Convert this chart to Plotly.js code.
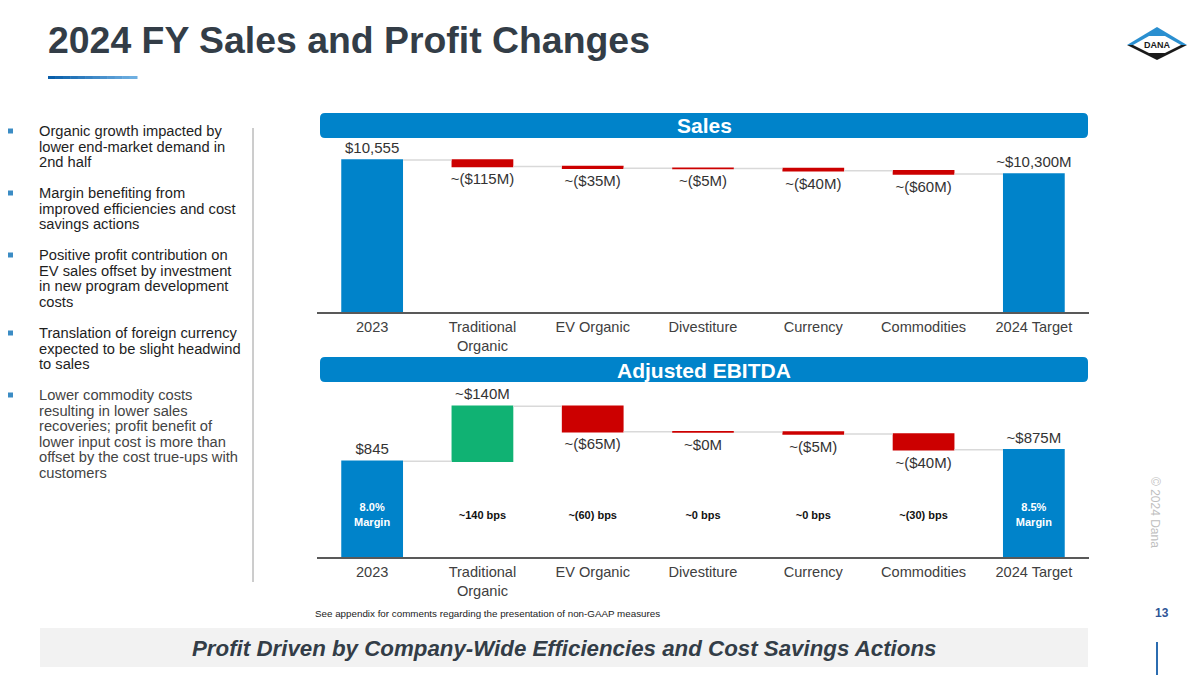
<!DOCTYPE html>
<html><head><meta charset="utf-8">
<script src="https://cdn.plot.ly/plotly-3.0.1.min.js"></script>
<style>html,body{margin:0;padding:0;background:#fff}#chart{width:1200px;height:675px}</style>
</head><body><div id="chart"></div>
<script>
// ---------- DATA ----------
const categories = ["2023","Traditional<br>Organic","EV Organic","Divestiture","Currency","Commodities","2024 Target"];
const measures = ["absolute","relative","relative","relative","relative","relative","total"];
const salesValues = [10555,-115,-35,-5,-40,-60,10300];
const salesLabels = ["$10,555","~($115M)","~($35M)","~($5M)","~($40M)","~($60M)","~$10,300M"];
const ebitdaValues = [845,140,-65,-1,-5,-40,875];
const ebitdaLabels = ["$845","~$140M","~($65M)","~$0M","~($5M)","~($40M)","~$875M"];
const marginLabels = ["8.0%<br>Margin","~140 bps","~(60) bps","~0 bps","~0 bps","~(30) bps","8.5%<br>Margin"];
const bullets = [
  ["Organic growth impacted by","lower end-market demand in","2nd half"],
  ["Margin benefiting from","improved efficiencies and cost","savings actions"],
  ["Positive profit contribution on","EV sales offset by investment","in new program development","costs"],
  ["Translation of foreign currency","expected to be slight headwind","to sales"],
  ["Lower commodity costs","resulting in lower sales","recoveries; profit benefit of","lower input cost is more than","offset by the cost true-ups with","customers"]
];
const titleText = "2024 FY Sales and Profit Changes";
const footText = "Profit Driven by Company-Wide Efficiencies and Cost Savings Actions";
const noteText = "See appendix for comments regarding the presentation of non-GAAP measures";

// ---------- STYLE ----------
const BLUE = "#0083CA", GREEN = "#10B273", RED = "#CC0000", DARK = "#333D47";
const FONT = "Liberation Sans, Arial, sans-serif";
const W = 1200, H = 675;
const px = x => x / W, py = y => 1 - y / H;
const pathOf = pts => "M " + pts.map(p => px(p[0]) + "," + py(p[1])).join(" L ") + " Z";
function rounded(x0, y0, x1, y1, r) {
  const X = v => px(v), Y = v => py(v);
  return `M ${X(x0+r)},${Y(y0)} L ${X(x1-r)},${Y(y0)} Q ${X(x1)},${Y(y0)} ${X(x1)},${Y(y0+r)} L ${X(x1)},${Y(y1-r)} Q ${X(x1)},${Y(y1)} ${X(x1-r)},${Y(y1)} L ${X(x0+r)},${Y(y1)} Q ${X(x0)},${Y(y1)} ${X(x0)},${Y(y1-r)} L ${X(x0)},${Y(y0+r)} Q ${X(x0)},${Y(y0)} ${X(x0+r)},${Y(y0)} Z`;
}

function wf(values, labels, xa, ya) {
  return {
    type: "waterfall", x: categories, y: values, measure: measures,
    text: labels, textinfo: "text", textposition: "outside",
    constraintext: "none",
    outsidetextfont: {family: FONT, size: 15, color: "#333333"},
    increasing: {marker: {color: GREEN}},
    decreasing: {marker: {color: RED}},
    totals: {marker: {color: BLUE}},
    connector: {line: {color: "#D9D9D9", width: 1.5}},
    hoverinfo: "skip", xaxis: xa, yaxis: ya, showlegend: false
  };
}

const traces = [
  wf(salesValues, salesLabels, "x", "y"),
  wf(ebitdaValues, ebitdaLabels, "x2", "y2"),
  {
    type: "scatter", mode: "text", x: categories, y: categories.map(() => 706),
    text: marginLabels, textposition: "middle center",
    textfont: {family: FONT, size: 11, weight: "bold",
      color: marginLabels.map(t => t.indexOf("Margin") >= 0 ? "#FFFFFF" : "#111111")},
    hoverinfo: "skip", xaxis: "x2", yaxis: "y2", showlegend: false
  }
];

const xDom = [px(317), px(1089)];
const xaxisBase = {
  type: "category", range: [-0.5, 6.5], fixedrange: true, showgrid: false, zeroline: false,
  showline: true, linecolor: "#595959", linewidth: 1.5,
  ticks: "outside", ticklen: 1, tickcolor: "rgba(0,0,0,0)",
  tickfont: {family: FONT, size: 14.6, color: "#404040"}, domain: xDom
};
const yaxisBase = {showgrid: false, zeroline: false, showticklabels: false, showline: false, fixedrange: true};

const shapes = [];
const annotations = [];

// title underline (gradient imitation)
const segN = 12;
for (let i = 0; i < segN; i++) {
  const t = i / (segN - 1);
  const c = `rgb(${Math.round(10 + t * 100)},${Math.round(95 + t * 80)},${Math.round(170 + t * 55)})`;
  const x0 = 48 + i * (89 / segN), x1 = 48 + (i + 1) * (89 / segN) + 0.5;
  shapes.push({type: "rect", xref: "paper", yref: "paper", x0: px(x0), x1: px(x1), y0: py(79), y1: py(76), fillcolor: c, line: {width: 0}});
}
// logo
shapes.push({type: "path", xref: "paper", yref: "paper", path: pathOf([[1127,45],[1157,27],[1187,45]]), fillcolor: "#2A8FD0", line: {width: 0}});
shapes.push({type: "path", xref: "paper", yref: "paper", path: pathOf([[1127,45],[1187,45],[1157,60]]), fillcolor: "#1A1A1A", line: {width: 0}});
shapes.push({type: "path", xref: "paper", yref: "paper", path: pathOf([[1133,45],[1149,36],[1165,36],[1181,45],[1165,53],[1149,53]]), fillcolor: "#FFFFFF", line: {width: 0}});
annotations.push({xref: "paper", yref: "paper", x: px(1157), y: py(45), text: "<b>DANA</b>", showarrow: false, font: {family: FONT, size: 9, color: "#1A1A1A"}, xanchor: "center", yanchor: "middle"});

// header bars
shapes.push({type: "path", xref: "paper", yref: "paper", path: rounded(320, 113, 1088, 138, 5), fillcolor: BLUE, line: {width: 0}, layer: "above"});
shapes.push({type: "path", xref: "paper", yref: "paper", path: rounded(320, 357, 1088, 382, 5), fillcolor: BLUE, line: {width: 0}, layer: "above"});
annotations.push({xref: "paper", yref: "paper", x: px(704), y: py(126), text: "<b>Sales</b>", showarrow: false, font: {family: FONT, size: 21, color: "#FFFFFF"}, xanchor: "center", yanchor: "middle"});
annotations.push({xref: "paper", yref: "paper", x: px(704), y: py(370), text: "<b>Adjusted EBITDA</b>", showarrow: false, font: {family: FONT, size: 21, color: "#FFFFFF"}, xanchor: "center", yanchor: "middle"});

// separator
shapes.push({type: "line", xref: "paper", yref: "paper", x0: px(253), x1: px(253), y0: py(128), y1: py(582), line: {color: "#9A9A9A", width: 1}});

// bullets
const bulletStarts = [131, 193, 255, 333, 395];
bullets.forEach((lines, bi) => {
  const y0 = bulletStarts[bi];
  shapes.push({type: "rect", xref: "paper", yref: "paper", x0: px(8), x1: px(13), y0: py(y0 - 2.5), y1: py(y0 + 2.5), fillcolor: "#3B8CC4", line: {width: 0}});
  lines.forEach((ln, li) => {
    annotations.push({xref: "paper", yref: "paper", x: px(37), y: py(y0 + li * 15.6), text: ln, showarrow: false, xanchor: "left", yanchor: "middle",
      font: {family: FONT, size: 14.7, color: bi === 4 ? "#444444" : "#1E1E1E"}});
  });
});

// title
annotations.push({xref: "paper", yref: "paper", x: px(46), y: py(40), text: "<b>" + titleText + "</b>", showarrow: false, xanchor: "left", yanchor: "middle", font: {family: FONT, size: 37.4, color: DARK}});

// footnote, page number, copyright
annotations.push({xref: "paper", yref: "paper", x: px(313), y: py(613), text: noteText, showarrow: false, xanchor: "left", yanchor: "middle", font: {family: FONT, size: 9.8, color: "#222222"}});
annotations.push({xref: "paper", yref: "paper", x: px(1162), y: py(613), text: "<b>13</b>", showarrow: false, xanchor: "center", yanchor: "middle", font: {family: FONT, size: 12, color: "#2F5597"}});
annotations.push({xref: "paper", yref: "paper", x: px(1155), y: py(512), text: "© 2024 Dana", textangle: 90, showarrow: false, xanchor: "center", yanchor: "middle", font: {family: FONT, size: 12, color: "#BFBFBF"}});

// bottom banner
shapes.push({type: "rect", xref: "paper", yref: "paper", x0: px(40), x1: px(1088), y0: py(667), y1: py(628), fillcolor: "#F2F2F2", line: {width: 0}, layer: "below"});
annotations.push({xref: "paper", yref: "paper", x: px(564), y: py(648), text: "<b><i>" + footText + "</i></b>", showarrow: false, xanchor: "center", yanchor: "middle", font: {family: FONT, size: 22.3, color: DARK}});
shapes.push({type: "line", xref: "paper", yref: "paper", x0: px(1157), x1: px(1157), y0: py(642), y1: py(675), line: {color: "#2B6CB0", width: 2}});

const layout = {
  width: W, height: H, margin: {l: 0, r: 0, t: 0, b: 0},
  paper_bgcolor: "#FFFFFF", plot_bgcolor: "rgba(0,0,0,0)",
  waterfallgap: 0.44, showlegend: false,
  font: {family: FONT},
  xaxis: Object.assign({}, xaxisBase, {anchor: "y"}),
  yaxis: Object.assign({}, yaxisBase, {domain: [py(312), py(120)], range: [7790, 11284], anchor: "x"}),
  xaxis2: Object.assign({}, xaxisBase, {anchor: "y2"}),
  yaxis2: Object.assign({}, yaxisBase, {domain: [py(557), py(372)], range: [601, 1072], anchor: "x2"}),
  shapes: shapes, annotations: annotations
};

Plotly.newPlot("chart", traces, layout, {displayModeBar: false, staticPlot: true});
</script>
</body></html>
